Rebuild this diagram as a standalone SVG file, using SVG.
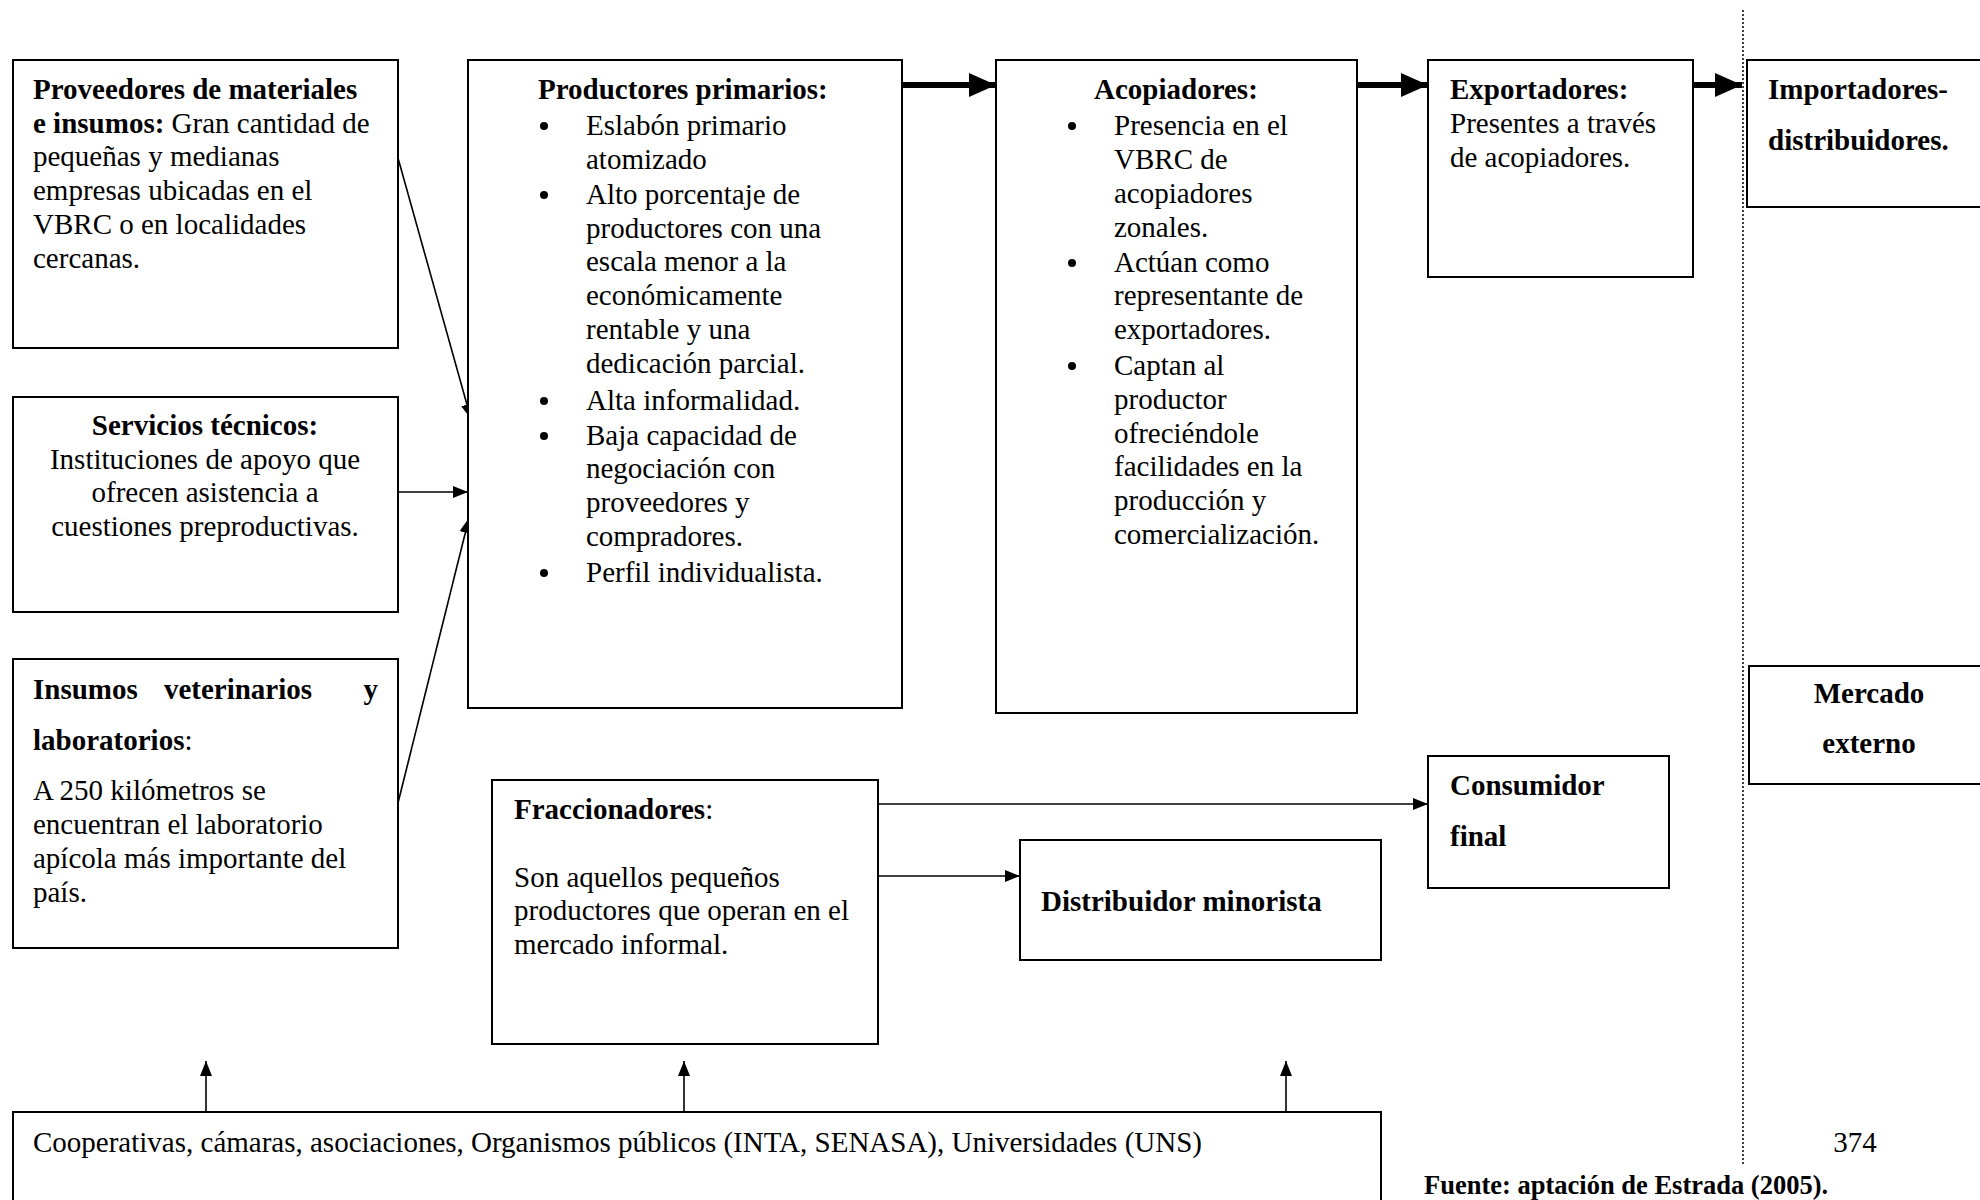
<svg xmlns="http://www.w3.org/2000/svg" width="1980" height="1200" viewBox="0 0 1980 1200">
<style>
text{font-family:"Liberation Serif","Times New Roman",serif;font-size:29px;fill:#000}
.b{font-weight:bold}
.c{text-anchor:middle}
.box{fill:#fff;stroke:#000;stroke-width:2}
.ln{stroke:#000;stroke-width:1.6;fill:none}
.thick{stroke:#000;stroke-width:6;fill:none}
.dot{fill:#000}
</style>
<defs>
<marker id="ah" markerUnits="userSpaceOnUse" markerWidth="16" markerHeight="12" refX="15" refY="6" orient="auto">
<path d="M0,0 L15,6 L0,12 z" fill="#000"/>
</marker>
<marker id="ahT" markerUnits="userSpaceOnUse" markerWidth="28" markerHeight="24" refX="27" refY="12" orient="auto">
<path d="M0,0 L27,12 L0,24 z" fill="#000"/>
</marker>
</defs>
<rect width="1980" height="1200" fill="#fff"/>

<g id="connectors">
<line class="ln" x1="398" y1="158" x2="471" y2="419" marker-end="url(#ah)"/>
<line class="ln" x1="398" y1="492" x2="468" y2="492" marker-end="url(#ah)"/>
<line class="ln" x1="398" y1="803" x2="469" y2="518" marker-end="url(#ah)"/>
<line class="thick" x1="902" y1="85" x2="996" y2="85" marker-end="url(#ahT)"/>
<line class="thick" x1="1357" y1="85" x2="1428" y2="85" marker-end="url(#ahT)"/>
<line class="thick" x1="1693" y1="85" x2="1742" y2="85" marker-end="url(#ahT)"/>
<line class="ln" x1="878" y1="804" x2="1428" y2="804" marker-end="url(#ah)"/>
<line class="ln" x1="878" y1="876" x2="1020" y2="876" marker-end="url(#ah)"/>
<line class="ln" x1="206" y1="1112" x2="206" y2="1061" marker-end="url(#ah)"/>
<line class="ln" x1="684" y1="1112" x2="684" y2="1061" marker-end="url(#ah)"/>
<line class="ln" x1="1286" y1="1112" x2="1286" y2="1061" marker-end="url(#ah)"/>
<line x1="1743" y1="10" x2="1743" y2="1164" stroke="#000" stroke-width="1.5" stroke-dasharray="2,2"/>
</g>

<g id="proveedores">
<rect class="box" x="13" y="60" width="385" height="288"/>
<text x="33" y="99" class="b">Proveedores de materiales</text>
<text x="33" y="133"><tspan class="b">e insumos:</tspan> Gran cantidad de</text>
<text x="33" y="166">pequeñas y medianas</text>
<text x="33" y="200">empresas ubicadas en el</text>
<text x="33" y="234">VBRC o en localidades</text>
<text x="33" y="268">cercanas.</text>
</g>

<g id="servicios">
<rect class="box" x="13" y="397" width="385" height="215"/>
<text x="205" y="435" class="b c">Servicios técnicos:</text>
<text x="205" y="469" class="c">Instituciones de apoyo que</text>
<text x="205" y="502" class="c">ofrecen asistencia a</text>
<text x="205" y="536" class="c">cuestiones preproductivas.</text>
</g>

<g id="insumos">
<rect class="box" x="13" y="659" width="385" height="289"/>
<text x="33" y="699" class="b">Insumos</text>
<text x="238" y="699" class="b c">veterinarios</text>
<text x="378" y="699" class="b" text-anchor="end">y</text>
<text x="33" y="750"><tspan class="b">laboratorios</tspan>:</text>
<text x="33" y="800">A 250 kilómetros se</text>
<text x="33" y="834">encuentran el laboratorio</text>
<text x="33" y="868">apícola más importante del</text>
<text x="33" y="902">país.</text>
</g>

<g id="productores">
<rect class="box" x="468" y="60" width="434" height="648"/>
<text x="538" y="99" class="b">Productores primarios:</text>
<circle class="dot" cx="544" cy="126" r="4"/><text x="586" y="135">Eslabón primario</text>
<text x="586" y="169">atomizado</text>
<circle class="dot" cx="544" cy="195" r="4"/><text x="586" y="204">Alto porcentaje de</text>
<text x="586" y="238">productores con una</text>
<text x="586" y="271">escala menor a la</text>
<text x="586" y="305">económicamente</text>
<text x="586" y="339">rentable y una</text>
<text x="586" y="373">dedicación parcial.</text>
<circle class="dot" cx="544" cy="401" r="4"/><text x="586" y="410">Alta informalidad.</text>
<circle class="dot" cx="544" cy="436" r="4"/><text x="586" y="445">Baja capacidad de</text>
<text x="586" y="478">negociación con</text>
<text x="586" y="512">proveedores y</text>
<text x="586" y="546">compradores.</text>
<circle class="dot" cx="544" cy="573" r="4"/><text x="586" y="582">Perfil individualista.</text>
</g>

<g id="acopiadores">
<rect class="box" x="996" y="60" width="361" height="653"/>
<text x="1094" y="99" class="b">Acopiadores:</text>
<circle class="dot" cx="1072" cy="126" r="4"/><text x="1114" y="135">Presencia en el</text>
<text x="1114" y="169">VBRC de</text>
<text x="1114" y="203">acopiadores</text>
<text x="1114" y="237">zonales.</text>
<circle class="dot" cx="1072" cy="263" r="4"/><text x="1114" y="272">Actúan como</text>
<text x="1114" y="305">representante de</text>
<text x="1114" y="339">exportadores.</text>
<circle class="dot" cx="1072" cy="366" r="4"/><text x="1114" y="375">Captan al</text>
<text x="1114" y="409">productor</text>
<text x="1114" y="443">ofreciéndole</text>
<text x="1114" y="476">facilidades en la</text>
<text x="1114" y="510">producción y</text>
<text x="1114" y="544">comercialización.</text>
</g>

<g id="exportadores">
<rect class="box" x="1428" y="60" width="265" height="217"/>
<text x="1450" y="99" class="b">Exportadores:</text>
<text x="1450" y="133">Presentes a través</text>
<text x="1450" y="167">de acopiadores.</text>
</g>

<g id="importadores">
<rect class="box" x="1747" y="60" width="245" height="147"/>
<text x="1768" y="99" class="b">Importadores-</text>
<text x="1768" y="150" class="b">distribuidores.</text>
</g>

<g id="mercado">
<rect class="box" x="1749" y="666" width="243" height="118"/>
<text x="1869" y="703" class="b c">Mercado</text>
<text x="1869" y="753" class="b c">externo</text>
</g>

<g id="consumidor">
<rect class="box" x="1428" y="756" width="241" height="132"/>
<text x="1450" y="795" class="b">Consumidor</text>
<text x="1450" y="846" class="b">final</text>
</g>

<g id="fraccionadores">
<rect class="box" x="492" y="780" width="386" height="264"/>
<text x="514" y="819"><tspan class="b">Fraccionadores</tspan>:</text>
<text x="514" y="887">Son aquellos pequeños</text>
<text x="514" y="920">productores que operan en el</text>
<text x="514" y="954">mercado informal.</text>
</g>

<g id="distribuidor">
<rect class="box" x="1020" y="840" width="361" height="120"/>
<text x="1041" y="911" class="b">Distribuidor minorista</text>
</g>

<g id="instituciones">
<rect class="box" x="13" y="1112" width="1368" height="100"/>
<text x="33" y="1152">Cooperativas, cámaras, asociaciones, Organismos públicos (INTA, SENASA), Universidades (UNS)</text>
</g>

<g id="pie">
<text x="1855" y="1152" class="c">374</text>
<text x="1424" y="1194" class="b" style="font-size:26.5px">Fuente: aptación de Estrada (2005).</text>
</g>
</svg>
